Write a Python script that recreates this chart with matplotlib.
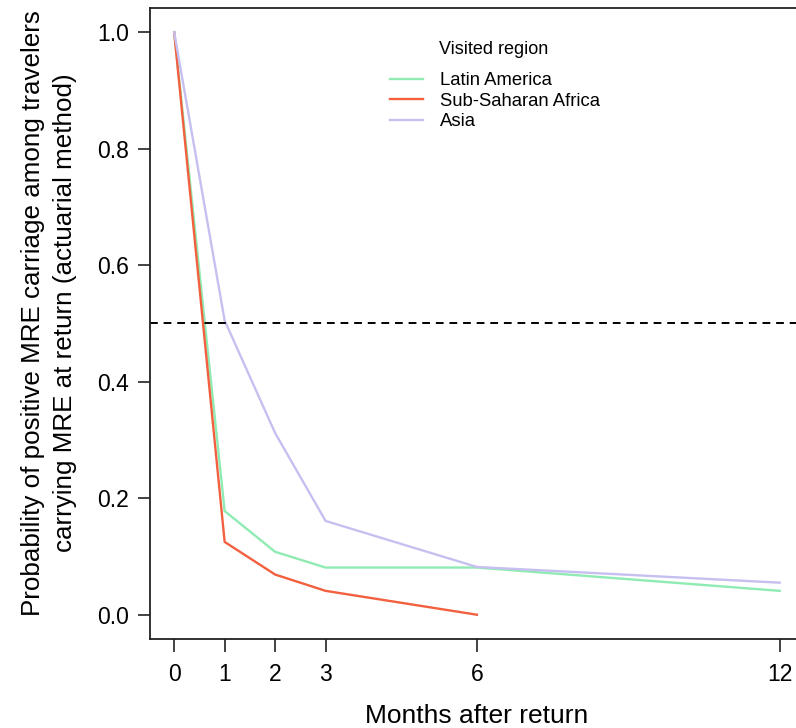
import numpy as np
import matplotlib
matplotlib.use('Agg')
import matplotlib.pyplot as plt

plt.rcParams['font.family'] = ['Liberation Sans', 'DejaVu Sans']

# survival estimates
months_la = [0, 1, 2, 3, 6, 12]
latin_america = [1.0, 0.178, 0.108, 0.081, 0.081, 0.041]
months_ssa = [0, 1, 2, 3, 6]
sub_saharan = [1.0, 0.125, 0.069, 0.041, 0.0]
months_as = [0, 1, 2, 3, 6, 12]
asia = [1.0, 0.505, 0.312, 0.161, 0.082, 0.055]

xticks = [0, 1, 2, 3, 6, 12]
yticks = [0.0, 0.2, 0.4, 0.6, 0.8, 1.0]

c_la = '#8FEBB2'
c_ssa = '#F2603F'
c_as = '#C6C0F0'

fig = plt.figure(figsize=(7.96, 7.28), dpi=100)
ax = fig.add_axes([0.1884, 0.1223, 0.8216, 0.8668])

ax.plot(months_la, latin_america, color=c_la, lw=1.7, label='Latin America')
ax.plot(months_ssa, sub_saharan, color=c_ssa, lw=1.7, label='Sub-Saharan Africa')
ax.plot(months_as, asia, color=c_as, lw=1.7, label='Asia')
ax.axhline(0.5, color='black', lw=1.4, ls=(0, (4, 3)))

ax.set_xlim(-0.48, 12.48)
ax.set_ylim(-0.0416, 1.0416)
ax.set_xticks(xticks)
ax.set_yticks(yticks)
ax.set_yticklabels(['%.1f' % v for v in yticks])
ax.tick_params(axis='both', labelsize=16.5, length=9, width=1.2, color='#222222')
ax.tick_params(axis='x', pad=8)
ax.tick_params(axis='y', pad=6)
for s in ax.spines.values():
    s.set_linewidth(1.3)
    s.set_color('#222222')

ax.set_xlabel('Months after return', fontsize=19, labelpad=13)
ax.set_ylabel('Probability of positive MRE carriage among travelers\ncarrying MRE at return (actuarial method)',
              fontsize=18.7, linespacing=1.45)
ax.yaxis.set_label_coords(-0.111, 0.5166)

fig.text(439 / 796, 1 - 49 / 728, 'Visited region', fontsize=13, ha='left', va='center')
leg = ax.legend(loc='upper left', bbox_to_anchor=(390 / 796, 1 - 72 / 728),
                bbox_transform=fig.transFigure, frameon=False, fontsize=13.3,
                handlelength=1.8, handletextpad=0.9, labelspacing=0.2,
                borderpad=0, borderaxespad=0)

fig.savefig('out.png', dpi=100)
